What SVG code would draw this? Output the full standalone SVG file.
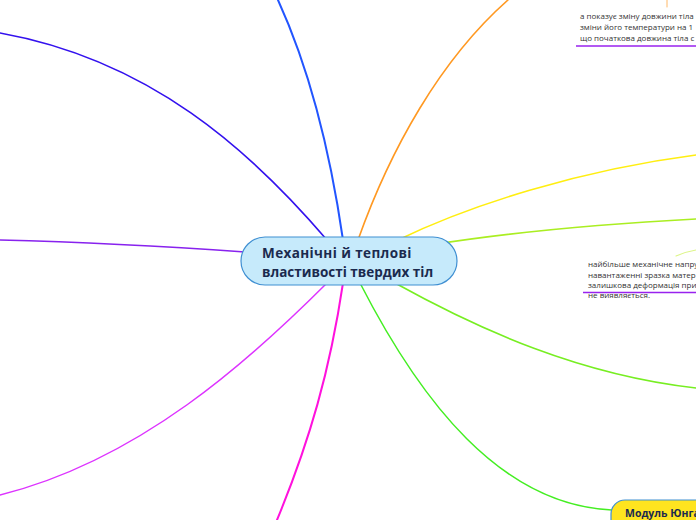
<svg xmlns="http://www.w3.org/2000/svg" width="696" height="520" viewBox="0 0 696 520">
<style>
.c{fill:none;stroke-linecap:round}
.t{font-family:"Open Sans","Noto Sans",sans-serif;font-size:8px;fill:#333}
.title{font-family:"Open Sans","Noto Sans",sans-serif;font-weight:bold;font-size:13.5px;fill:#1b2a4e}
</style>
<rect width="696" height="520" fill="#ffffff"/>
<g id="connectors">
<path class="c" d="M343,240 C330,150 310,70 278,0" stroke="#2255ff" stroke-width="2"/>
<path class="c" d="M327,240 C250,150 150,60 0,33" stroke="#3311ee" stroke-width="1.6"/>
<path class="c" d="M245,252 C160,246 80,242 0,240" stroke="#8822ee" stroke-width="1.6"/>
<path class="c" d="M327,283 C250,360 140,460 0,495" stroke="#dd33ff" stroke-width="1.5"/>
<path class="c" d="M343,283 C330,370 310,440 277,520" stroke="#ff11dd" stroke-width="2"/>
<path class="c" d="M360,283 C420,400 500,505 612,510" stroke="#44ee22" stroke-width="1.5"/>
<path class="c" d="M395,283 C480,330 580,375 696,388" stroke="#77ee22" stroke-width="1.6"/>
<path class="c" d="M430,245 C500,234 600,224 696,219" stroke="#aaee22" stroke-width="1.6"/>
<path class="c" d="M398,240 C470,205 580,170 696,155" stroke="#ffee11" stroke-width="1.6"/>
<path class="c" d="M358,240 C390,150 440,60 508,0" stroke="#ff9922" stroke-width="1.6"/>
<path class="c" d="M667,0 L667,7" stroke="#ffb866" stroke-width="1"/>
<path class="c" d="M676,256 C683,253 690,251 696,250" stroke="#ddf588" stroke-width="1.2"/>
<path d="M576,46 L696,46" stroke="#9922ee" stroke-width="1.6"/>
</g>
<g id="node-center">
<rect x="241" y="237" width="216" height="48" rx="24" fill="#c6eafb" stroke="#3f8fd2" stroke-width="1.2"/>
<text class="title" x="262" y="258" letter-spacing="0.4">Механічні й теплові</text>
<text class="title" x="262" y="277">властивості твердих тіл</text>
</g>
<g id="node-text1">
<text class="t" x="580" y="19">а показує зміну довжини тіла</text>
<text class="t" x="580" y="30">зміни його температури на 1</text>
<text class="t" x="580" y="41">що початкова довжина тіла с</text>
</g>
<g id="node-text2">
<text class="t" x="588" y="267">найбільше механічне напру</text>
<text class="t" x="588" y="277.5">навантаженні зразка матер</text>
<text class="t" x="588" y="288">залишкова деформація при</text>
<text class="t" x="588" y="298">не виявляється.</text>
<path d="M583,292.5 L696,292.5" stroke="#9922ee" stroke-width="1.6"/>
</g>
<g id="node-young">
<rect x="611" y="500" width="120" height="40" rx="14" fill="#ffe41f" stroke="#3f8fd2" stroke-width="1.2"/>
<text x="625" y="517" font-family="Open Sans, Noto Sans, sans-serif" font-weight="bold" font-size="10.5" fill="#1b2a4e">Модуль Юнга</text>
</g>
</svg>
